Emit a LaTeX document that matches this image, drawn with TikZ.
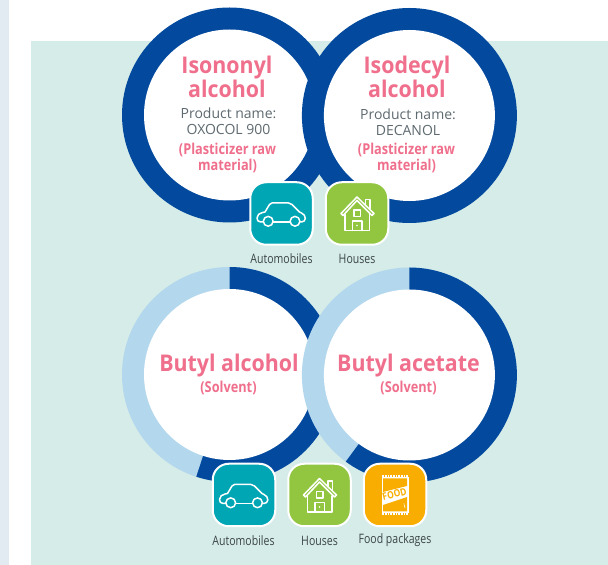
\documentclass[tikz,border=0pt]{standalone}
\usepackage{fontspec}
\setmainfont{Open Sans}
\newfontfamily\titlefont[FakeStretch=0.93]{Open Sans}
\newfontfamily\condfont[FakeStretch=0.85]{Open Sans}
\newfontfamily\capfont[FakeStretch=0.81]{Open Sans}
\definecolor{mint}{HTML}{D5ECE8}
\definecolor{stripc}{HTML}{E2EAF2}
\definecolor{darkblue}{HTML}{034A9E}
\definecolor{lightblue}{HTML}{B3D7ED}
\definecolor{pinkc}{HTML}{EF6F8C}
\definecolor{grayc}{HTML}{5E6A70}
\definecolor{capc}{HTML}{3C4448}
\definecolor{tealc}{HTML}{00A6B4}
\definecolor{greenc}{HTML}{92C640}
\definecolor{orangec}{HTML}{F8AD00}
\tikzset{
  x=1pt,y=1pt,
  title/.style={text=pinkc,font=\titlefont\fontsize{23}{24.5}\selectfont\bfseries,align=center,inner sep=0pt},
  prod/.style={text=grayc,font=\fontsize{14}{16}\selectfont,align=center,inner sep=0pt},
  usage/.style={text=pinkc,font=\condfont\fontsize{15}{16}\selectfont\bfseries,align=center,inner sep=0pt},
  capt/.style={text=capc,font=\capfont\fontsize{13}{14}\selectfont,inner sep=0pt},
  iconbox/.style={draw=white,line width=2pt,rounded corners=16pt,minimum size=62.5pt,inner sep=0pt},
  iconline/.style={draw=white,line width=1.5pt,line join=round,line cap=round},
  car/.pic={
    \draw[iconline] (-18.5,-8.5) -- (-21,-8.5) .. controls (-23.5,-8.5) and (-24.5,-6.5) .. (-24.5,-4.5)
      .. controls (-24.5,-1.5) and (-22,0.5) .. (-19,1) -- (-16.5,1.5) -- (-12,9) .. controls (-11.5,10) and (-10.5,10.5) .. (-9.5,10.5)
      -- (7,10.5) .. controls (8.5,10.5) and (9.5,10) .. (10.5,9) -- (18,1.5) -- (20,0.5) .. controls (22.5,-0.5) and (23.8,-2.5) .. (23.8,-5)
      .. controls (23.8,-7) and (22,-8.5) .. (20,-8.5) -- (18.5,-8.5);
    \draw[iconline] (-8.5,-8.5) -- (8.5,-8.5);
    \draw[iconline] (-13.3,-7.8) circle[radius=4.9];
    \draw[iconline] (13.5,-7.8) circle[radius=4.9];
  },
  house/.pic={
    \draw[iconline] (-16,0) -- (0,16.5) -- (17,0) -- (15,-2) -- (0,13) -- (-14,-2) -- cycle;
    \draw[iconline] (-12,-1) -- (-12,-17) -- (12.5,-17) -- (12.5,-1);
    \draw[iconline] (8.5,9) -- (8.5,14) -- (13,14) -- (13,5);
    \draw[iconline] (-3,-3) rectangle (3.5,3.5);
    \draw[iconline] (-4.5,-17) -- (-4.5,-7.5) -- (5,-7.5) -- (5,-17);
    \fill[white] (0,-12) circle[radius=0.9];
  },
  food/.pic={
    \draw[white,line width=1.4pt,dash pattern=on 0.8pt off 0.8pt] (-13.5,19) -- (13.5,19);
    \draw[white,line width=1.4pt,dash pattern=on 0.8pt off 0.8pt] (-13.5,-19) -- (13.5,-19);
    \fill[white] (-13.5,18) -- (13.5,18) -- (13.5,-18) -- (-13.5,-18) -- cycle;
    \fill[orangec] (-12,16.5) -- (12,16.5) -- (12,9) -- (-12,3) -- cycle;
    \fill[orangec] (-12,-10) -- (-12,-16.5) -- (12,-16.5) -- (12,-2) -- cycle;
  },
}
\begin{document}
\begin{tikzpicture}
\useasboundingbox (0,0) rectangle (608,565);
\fill[white] (0,0) rectangle (608,565);
\fill[stripc] (0,0) rectangle (9,565);
\fill[mint] (31,0) rectangle (608,524);

% coordinates of the ring centres
\coordinate (c1) at (229.5,450);
\coordinate (c2) at (409.4,449.5);
\coordinate (c3) at (229.5,190.5);
\coordinate (c4) at (409.4,190);

% top rings
\fill[darkblue] (c1) circle[radius=107.5];
\fill[white] (c1) circle[radius=85.5];
\fill[darkblue] (c2) circle[radius=107.5];
\fill[white] (c2) circle[radius=85.5];

% bottom left ring
\fill[lightblue] (c3) circle[radius=107.5];
\fill[darkblue] (c3) -- ++(90:107.5) arc[start angle=90,end angle=-108,radius=107.5] -- cycle;
\fill[white] (c3) circle[radius=85.5];
% bottom right ring
\fill[lightblue] (c4) circle[radius=107.5];
\fill[darkblue] (c4) -- ++(90:107.5) arc[start angle=90,end angle=-126.3,radius=107.5] -- cycle;
\fill[white] (c4) circle[radius=85.5];

% texts
\node[title] (t1) at (227,488) {Isononyl\\alcohol};
\node[prod] (p1) at (228.5,443.5) {Product name:\\OXOCOL 900};
\node[usage] (u1) at (227.5,407) {(Plasticizer raw\\material)};
\node[title] (t2) at (407,488) {Isodecyl\\alcohol};
\node[prod] (p2) at (408,442.5) {Product name:\\DECANOL};
\node[usage] (u2) at (406.5,407) {(Plasticizer raw\\material)};
\node[title] (t3) at (229,199) {Butyl alcohol};
\node[usage] (u3) at (228.5,177) {(Solvent)};
\node[title] (t4) at (408.5,199) {Butyl acetate};
\node[usage] (u4) at (408.5,177) {(Solvent)};

% icons, top row
\node[iconbox,fill=tealc] (a1) at (281.5,351.5) {};
\pic at (a1) {car};
\node[iconbox,fill=greenc] (h1) at (357,351.5) {};
\pic at (h1) {house};
\node[capt] (ca1) at (281.5,306.5) {Automobiles};
\node[capt] (ch1) at (357,306.5) {Houses};

% icons, bottom row
\node[iconbox,fill=tealc] (a2) at (244,70) {};
\pic at (a2) {car};
\node[iconbox,fill=greenc] (h2) at (319.5,70) {};
\pic at (h2) {house};
\node[iconbox,fill=orangec] (f2) at (395,70) {};
\pic at (f2) {food};
\node[capt,rotate=14,text=orangec,font=\condfont\fontsize{10}{10}\selectfont\bfseries,anchor=center] (fd) at ([xshift=-0.5pt,yshift=1pt]f2) {FOOD};
\node[capt,rotate=14,text=white,font=\condfont\fontsize{6}{6}\selectfont\bfseries] (fi) at ([xshift=9.5pt,yshift=-11.5pt]f2) {i};
\node[capt] (ca2) at (243.5,24.5) {Automobiles};
\node[capt] (ch2) at (319.5,24.5) {Houses};
\node[capt] (cf2) at (395,24.5) {Food packages};
\end{tikzpicture}
\end{document}
